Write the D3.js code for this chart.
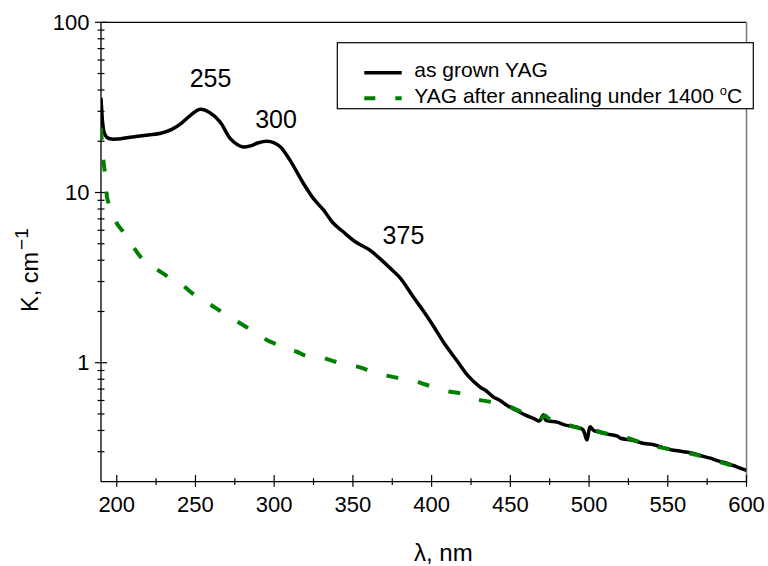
<!DOCTYPE html>
<html>
<head>
<meta charset="utf-8">
<script src="https://cdn.jsdelivr.net/npm/d3@7"></script>
<style>
  html, body { margin: 0; padding: 0; background: #fff; }
  svg { display: block; font-family: "Liberation Sans", Arial, sans-serif; }
</style>
</head>
<body>
<svg id="chart" width="768" height="566"></svg>
<script>
// ---------- data ----------
const seriesNames = ["as grown YAG", "YAG after annealing under 1400 "];

const lambdaGrown = [190, 190.5, 191, 192, 193.5, 195.5, 200, 210, 220, 228, 235, 241, 247, 253, 259, 265.6, 272, 277, 280.5, 285, 290, 295.3, 300, 304, 310, 318.6, 325, 331.3, 337.6, 344, 352, 360.9, 367, 373.6, 380, 388.4, 395, 401, 408, 416, 423, 430.8, 435, 439.3, 443.5, 448, 454, 460, 465, 468.5, 471, 472.5, 479.6, 485, 492.3, 496, 498.6, 499.5, 500.7, 503, 511.3, 518, 520, 528.2, 535, 541, 549.4, 555, 560, 565, 570.6, 577, 582, 587, 591.7, 596, 600];
const kGrown = [36, 30, 26, 22.5, 21.2, 20.7, 20.6, 21.2, 21.8, 22.3, 23.5, 25.5, 28.5, 30.8, 29.5, 26, 20.8, 19, 18.5, 18.8, 19.6, 20, 19.6, 18.5, 15.5, 11.3, 9.2, 7.9, 6.6, 5.86, 5.1, 4.58, 4.1, 3.6, 3.15, 2.43, 2.0, 1.65, 1.3, 1.03, 0.84, 0.72, 0.68, 0.628, 0.60, 0.56, 0.524, 0.49, 0.47, 0.455, 0.495, 0.46, 0.448, 0.43, 0.418, 0.405, 0.352, 0.38, 0.42, 0.40, 0.382, 0.37, 0.36, 0.349, 0.335, 0.33, 0.312, 0.305, 0.3, 0.295, 0.285, 0.275, 0.265, 0.258, 0.249, 0.24, 0.233];

const lambdaAnneal = [190, 190.5, 191.5, 193, 194, 196.8, 200, 204.2, 209.5, 215, 220, 227, 235, 240, 246.6, 252, 258.6, 265.6, 272, 277.3, 284.7, 290, 295.3, 302.7, 308, 314.4, 320.7, 329, 336.6, 341, 347.1, 354.6, 360, 365, 371.5, 377, 382, 389.5, 395, 401, 407.5, 412, 418, 424.4, 430, 437, 443.4, 450, 456, 463, 470, 472, 475, 480, 487, 493, 498, 500, 502, 510, 518, 525, 533, 540, 548, 556, 563, 570, 578, 585, 592, 600];
const kAnneal = [24, 20, 15.5, 12, 9.2, 7.8, 6.6, 5.86, 4.95, 4.2, 3.78, 3.46, 3.1, 2.95, 2.62, 2.4, 2.22, 2.02, 1.85, 1.73, 1.57, 1.47, 1.36, 1.27, 1.2, 1.16, 1.095, 1.08, 1.03, 1.0, 0.97, 0.94, 0.9, 0.87, 0.84, 0.82, 0.80, 0.78, 0.75, 0.72, 0.69, 0.675, 0.66, 0.62, 0.605, 0.59, 0.575, 0.55, 0.52, 0.5, 0.475, 0.49, 0.465, 0.45, 0.43, 0.415, 0.405, 0.43, 0.41, 0.385, 0.375, 0.36, 0.34, 0.325, 0.315, 0.305, 0.295, 0.285, 0.27, 0.258, 0.247, 0.23];

const xMajorTicks = [200, 250, 300, 350, 400, 450, 500, 550, 600];
const xMinorTicks = [225, 275, 325, 375, 425, 475, 525, 575];
const yMajorTicks = [1, 10, 100];
const yMinorTicks = [0.3, 0.4, 0.5, 0.6, 0.7, 0.8, 0.9, 2, 3, 4, 5, 6, 7, 8, 9, 20, 30, 40, 50, 60, 70, 80, 90];

const peakText = ["255", "300", "375"];
const peakLambda = [259.6, 301.2, 382.1];
const peakK = [41.8, 23.8, 4.95];

// ---------- layout ----------
const svg = d3.select("#chart");
const pL = 101, pR = 746.5, pT = 22.3, pB = 481.7;

const x = d3.scaleLinear().domain([190, 600]).range([pL, pR]);
const y = d3.scaleLog().domain([0.2, 100]).range([pB, pT]);

svg.append("defs").append("clipPath").attr("id", "clip")
  .append("rect").attr("x", pL).attr("y", pT).attr("width", pR - pL).attr("height", pB - pT);

// frame (top and right)
svg.append("line").attr("x1", pL).attr("x2", pR).attr("y1", pT).attr("y2", pT)
  .attr("stroke", "#000").attr("stroke-width", 1.2);
svg.append("line").attr("x1", pR).attr("x2", pR).attr("y1", pT).attr("y2", pB)
  .attr("stroke", "#777").attr("stroke-width", 1.5);

// x axis
const xAxis = svg.append("g").attr("transform", `translate(0,${pB})`);
xAxis.append("line").attr("x1", pL).attr("x2", pR).attr("stroke", "#000").attr("stroke-width", 1.3);
xAxis.selectAll("line.maj").data(xMajorTicks).enter().append("line").attr("class", "maj")
  .attr("x1", d => x(d)).attr("x2", d => x(d)).attr("y1", -6.7).attr("y2", 5)
  .attr("stroke", "#000").attr("stroke-width", 1.2);
xAxis.selectAll("line.min").data(xMinorTicks).enter().append("line").attr("class", "min")
  .attr("x1", d => x(d)).attr("x2", d => x(d)).attr("y1", -3.5).attr("y2", 3.3)
  .attr("stroke", "#000").attr("stroke-width", 1.2);
xAxis.selectAll("text").data(xMajorTicks).enter().append("text")
  .attr("x", d => x(d)).attr("y", 30).attr("text-anchor", "middle")
  .attr("font-size", 22).attr("fill", "#000").text(d => d);

// y axis
const yAxis = svg.append("g").attr("transform", `translate(${pL},0)`);
yAxis.append("line").attr("y1", pT).attr("y2", pB).attr("stroke", "#000").attr("stroke-width", 1.3);
yAxis.selectAll("line.maj").data(yMajorTicks).enter().append("line").attr("class", "maj")
  .attr("y1", d => y(d)).attr("y2", d => y(d)).attr("x1", -6).attr("x2", 6)
  .attr("stroke", "#000").attr("stroke-width", 1.2);
yAxis.selectAll("line.min").data(yMinorTicks).enter().append("line").attr("class", "min")
  .attr("y1", d => y(d)).attr("y2", d => y(d)).attr("x1", -3.5).attr("x2", 3.5)
  .attr("stroke", "#000").attr("stroke-width", 1.2);
yAxis.selectAll("text").data(yMajorTicks).enter().append("text")
  .attr("x", -11.5).attr("y", d => y(d)).attr("dy", "0.35em").attr("text-anchor", "end")
  .attr("font-size", 22).attr("fill", "#000").text(d => d);

// axis titles
svg.append("text").attr("x", 414).attr("y", 561).attr("font-size", 24).attr("fill", "#000").text("λ, nm");
const yt = svg.append("text").attr("transform", "translate(38,312) rotate(-90)")
  .attr("font-size", 23.5).attr("fill", "#000");
yt.append("tspan").text("K, cm");
yt.append("tspan").attr("dy", -10).attr("dx", 2).attr("font-size", 19).text("−1");

// curves (black first, green dashed on top)
const line = d3.line().x(d => x(d[0])).y(d => y(d[1])).curve(d3.curveCatmullRom.alpha(0.5));
const plot = svg.append("g").attr("clip-path", "url(#clip)");
plot.append("path").datum(d3.zip(lambdaGrown, kGrown)).attr("d", line)
  .attr("fill", "none").attr("stroke", "#000").attr("stroke-width", 3.5)
  .attr("stroke-linejoin", "round");
plot.append("path").datum(d3.zip(lambdaAnneal, kAnneal)).attr("d", line)
  .attr("fill", "none").attr("stroke", "#008000").attr("stroke-width", 4)
  .attr("stroke-dasharray", "12,20");

// peak labels
svg.selectAll("text.peak").data(peakText).enter().append("text")
  .attr("class", "peak")
  .attr("x", (d, i) => x(peakLambda[i])).attr("y", (d, i) => y(peakK[i]))
  .attr("text-anchor", "middle").attr("font-size", 25).attr("fill", "#000").text(d => d);

// legend
const lg = svg.append("g");
lg.append("rect").attr("x", 337.3).attr("y", 42.7).attr("width", 416).attr("height", 66)
  .attr("fill", "#fff").attr("stroke", "#000").attr("stroke-width", 1.2);
lg.append("line").attr("x1", 364.3).attr("x2", 401.7).attr("y1", 72.7).attr("y2", 72.7)
  .attr("stroke", "#000").attr("stroke-width", 3.5);
lg.append("line").attr("x1", 364.3).attr("x2", 401.7).attr("y1", 98.3).attr("y2", 98.3)
  .attr("stroke", "#008000").attr("stroke-width", 4).attr("stroke-dasharray", "11,20");
lg.append("text").attr("x", 414.3).attr("y", 76.8).attr("font-size", 21).attr("fill", "#000").text(seriesNames[0]);
const t2 = lg.append("text").attr("x", 414.3).attr("y", 102.5).attr("font-size", 21).attr("fill", "#000");
t2.append("tspan").text(seriesNames[1]);
t2.append("tspan").attr("dy", -8).attr("font-size", 13).text("o");
t2.append("tspan").attr("dy", 8).text("C");
</script>
</body>
</html>
